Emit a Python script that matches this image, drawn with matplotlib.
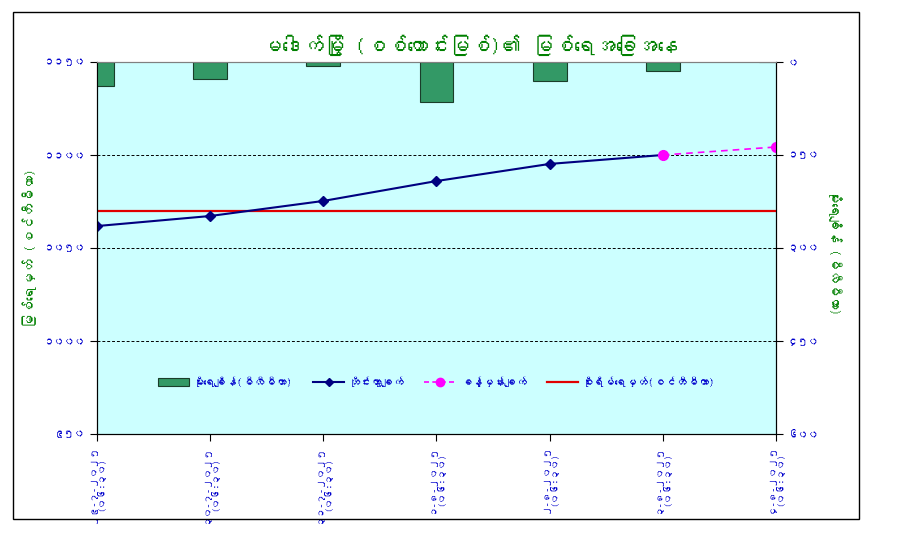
import matplotlib
matplotlib.use("Agg")
import matplotlib.pyplot as plt
from matplotlib import font_manager
from matplotlib.patches import Rectangle
from matplotlib.lines import Line2D
from matplotlib.patches import Patch

# ---- find a font with Myanmar glyphs if any is installed ----
def find_myanmar_font():
    try:
        from fontTools.ttLib import TTFont
    except Exception:
        return None
    seen = set()
    for f in font_manager.fontManager.ttflist:
        if f.fname in seen:
            continue
        seen.add(f.fname)
        try:
            tt = TTFont(f.fname, fontNumber=0, lazy=True)
            cmap = tt.getBestCmap()
            if cmap and 0x1019 in cmap and 0x1040 in cmap:
                return f.name
        except Exception:
            continue
    return None

mm_font = find_myanmar_font()
families = ([mm_font] if mm_font else []) + ['DejaVu Sans']
plt.rcParams['font.family'] = families

# ---- data ----
categories = ["၂၉-၇-၂၀၂၅\n(၀၆:၃၀)", "၃၀-၇-၂၀၂၅\n(၀၆:၃၀)", "၃၁-၇-၂၀၂၅\n(၀၆:၃၀)",
              "၁-၈-၂၀၂၅\n(၀၆:၃၀)", "၂-၈-၂၀၂၅\n(၀၆:၃၀)", "၃-၈-၂၀၂၅\n(၀၆:၃၀)",
              "၄-၈-၂၀၂၅\n(၀၆:၃၀)"]
rainfall = [38.7, 27.4, 6.5, 64.5, 30.6, 14.5, 0.0]          # mm
observed_x = [0, 1, 2, 3, 4, 5]
observed = [1061.8, 1067.2, 1075.3, 1086.0, 1095.2, 1100.0]   # cm
forecast_x = [5, 6]
forecast = [1100.0, 1104.3]
danger_level = 1070.0

left_ticks = [950, 1000, 1050, 1100, 1150]
left_tick_labels = ["၉၅၀", "၁၀၀၀", "၁၀၅၀", "၁၁၀၀", "၁၁၅၀"]
right_ticks = [0, 150, 300, 450, 600]
right_tick_labels = ["၀", "၁၅၀", "၃၀၀", "၄၅၀", "၆၀၀"]

title = "မဒေါက်မြို့ (စစ်တောင်းမြစ်)၏ မြစ်ရေအခြေအနေ"
left_label = "မြစ်ရေမှတ် (စင်တီမီတာ)"
right_label = "မိုးရေချိန် (မီလီမီတာ)"
legend_labels = ["မိုးရေချိန်(မီလီမီတာ)", "တိုင်းထွာချက်", "ခန့်မှန်းချက်",
                 "စိုးရိမ်ရေမှတ်(စင်တီမီတာ)"]

blue = '#0000CC'
green = '#008000'

fig = plt.figure(figsize=(9.12, 5.45), dpi=100)
ax = fig.add_axes([97/912, (545-434)/545, (776-97)/912, (434-62)/545])
ax.set_facecolor('#CCFFFF')
ax2 = ax.twinx()

n = len(categories)
xs = list(range(n))

# bars on secondary (inverted) axis
ax2.bar(xs, rainfall, width=0.3, color='#339966', edgecolor='#1a3d2a', linewidth=0.8, zorder=2)
ax2.set_ylim(600, 0)
ax2.set_yticks(right_ticks)
ax2.set_yticklabels(right_tick_labels)

# lines on primary
for v in [1000, 1050, 1100]:
    ax.axhline(v, color='black', linestyle=(0, (3, 2)), linewidth=0.7, zorder=1)
ax.axhline(danger_level, color='#E00000', linewidth=1.6, zorder=3)
ax.plot(observed_x, observed, color='#000080', linewidth=1.5, marker='D', markersize=5, zorder=4)
ax.plot(forecast_x, forecast, color='#FF00FF', linewidth=1.2, linestyle=(0, (4, 3)),
        marker='o', markersize=7, zorder=4)
ax.set_ylim(950, 1150)
ax.set_yticks(left_ticks)
ax.set_yticklabels(left_tick_labels)
ax.set_xlim(0, n - 1)
ax.set_xticks(xs)
ax.set_xticklabels(categories, rotation=90, ha='center', va='top', linespacing=1.0)

for a in (ax, ax2):
    a.tick_params(axis='y', colors='black', labelcolor=blue, labelsize=7.5, length=5, width=0.8)
    for lbl in a.get_yticklabels():
        lbl.set_fontweight('bold')
ax.tick_params(axis='x', labelcolor=blue, labelsize=7, length=5, width=0.8, pad=3)
for lbl in ax.get_xticklabels():
    lbl.set_fontweight('bold')

ax.spines['top'].set_color('#808080')
ax2.spines['top'].set_color('#808080')
for s in ['left', 'bottom', 'right']:
    ax.spines[s].set_color('black')
    ax2.spines[s].set_color('black')

# labels and title
fig.text(470/912, (545-45)/545, title, ha='center', va='center', fontsize=15,
         fontweight='bold', color=green)
fig.text(30/912, (545-248)/545, left_label, ha='center', va='center', rotation=90,
         fontsize=10, fontweight='bold', color=green)
fig.text(835/912, (545-252)/545, right_label, ha='center', va='center', rotation=270,
         fontsize=9.5, fontweight='bold', color=green)

# legend
handles = [
    Patch(facecolor='#339966', edgecolor='#1a3d2a', linewidth=0.8),
    Line2D([], [], color='#000080', linewidth=1.5, marker='D', markersize=4),
    Line2D([], [], color='#FF00FF', linewidth=1.2, linestyle=(0, (3, 2)), marker='o', markersize=6),
    Line2D([], [], color='#E00000', linewidth=1.6),
]
leg = ax2.legend(handles, legend_labels, loc='center', bbox_to_anchor=(0.5, 0.142), ncol=4,
                 frameon=False, fontsize=8, handlelength=2.8, columnspacing=1.8,
                 handletextpad=0.4)
for t in leg.get_texts():
    t.set_color(blue)
    t.set_fontweight('bold')

# outer border
fig.patches.append(Rectangle((13/912, (545-519)/545), 846/912, 507/545, transform=fig.transFigure,
                             fill=False, edgecolor='black', linewidth=1.0))

fig.savefig('out.png', dpi=100, facecolor='white')
